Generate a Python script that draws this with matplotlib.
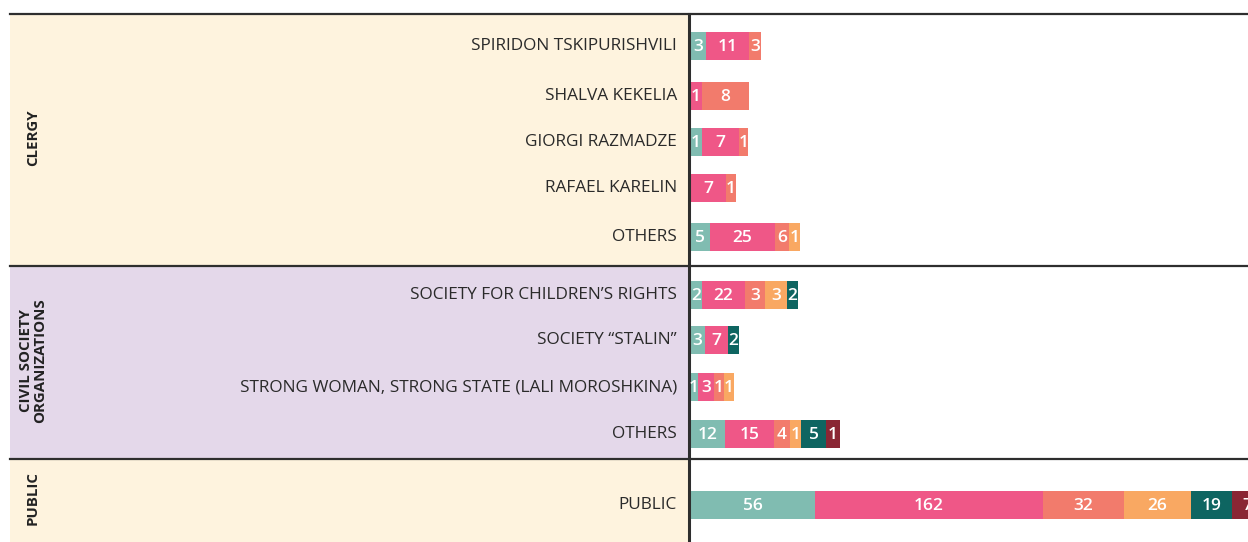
import matplotlib.pyplot as plt
import numpy as np

# rows, top to bottom
names = ["SPIRIDON TSKIPURISHVILI", "SHALVA KEKELIA", "GIORGI RAZMADZE", "RAFAEL KARELIN", "OTHERS",
         "SOCIETY FOR CHILDREN\u2019S RIGHTS", "SOCIETY \u201cSTALIN\u201d",
         "STRONG WOMAN, STRONG STATE (LALI MOROSHKINA)", "OTHERS",
         "PUBLIC"]
groups = ["CLERGY", "CIVIL SOCIETY\nORGANIZATIONS", "PUBLIC"]

# counts per category (0 = not present)
counts = [
    [3, 11, 3, 0, 0, 0],
    [0, 1, 8, 0, 0, 0],
    [1, 7, 1, 0, 0, 0],
    [0, 7, 1, 0, 0, 0],
    [5, 25, 6, 1, 0, 0],
    [2, 22, 3, 3, 2, 0],
    [3, 7, 0, 0, 2, 0],
    [1, 3, 1, 1, 0, 0],
    [12, 15, 4, 1, 5, 1],
    [56, 162, 32, 26, 19, 7],
]
# segment lengths as drawn in the original (not proportional to counts)
seg_len = [
    [16, 43, 12, 0, 0, 0],
    [0, 12, 47, 0, 0, 0],
    [12, 37, 9, 0, 0, 0],
    [0, 36, 10, 0, 0, 0],
    [20, 65, 14, 11, 0, 0],
    [12, 43, 20, 22, 11, 0],
    [15, 23, 0, 0, 11, 0],
    [8, 16, 10, 10, 0, 0],
    [35, 49, 16, 11, 25, 14],
    [125, 228, 81, 67, 41, 30],
]
colors = ["#80bcb1", "#ef5787", "#f27b6c", "#f9a862", "#0e6561", "#8a2634"]

W, H = 1248, 542
fig = plt.figure(figsize=(W / 100, H / 100), dpi=100)
ax = fig.add_axes([0, 0, 1, 1])
ax.set_xlim(0, W)
ax.set_ylim(H, 0)
ax.axis("off")

font = "Open Sans"
row_y = [46, 96, 142, 188, 237, 295, 340, 387, 434, 505]
bounds = [14, 266, 459, H]
band_cols = ["#fef3de", "#e4d8ea", "#fef3de"]
x0 = 690

for i in range(3):
    ax.add_patch(plt.Rectangle((10, bounds[i]), x0 - 10, bounds[i + 1] - bounds[i],
                               color=band_cols[i], lw=0, zorder=0))
    ax.plot([10, W], [bounds[i], bounds[i]], color="#2e2e2e", lw=1.6, zorder=3)
    mid = (bounds[i] + min(bounds[i + 1], 550)) / 2
    ax.text(33, mid - 2, groups[i], rotation=90, ha="center", va="center",
            fontsize=10.8, fontweight="bold", family=font, color="#222222", linespacing=1.0)
ax.plot([x0 - 1, x0 - 1], [14, H], color="#2e2e2e", lw=2.2, zorder=3)

counts = np.array(counts)
seg_len = np.array(seg_len)
for r in range(len(names)):
    y = row_y[r]
    ax.text(677, y, names[r], ha="right", va="center", fontsize=12.4,
            family=font, color="#2a2a2a")
    left = x0
    for c in range(6):
        w = seg_len[r, c]
        if counts[r, c] == 0:
            continue
        ax.barh(y, w, left=left, height=28, color=colors[c], lw=0, zorder=2)
        ax.text(left + w / 2, y + 1, str(counts[r, c]), ha="center", va="center",
                fontsize=12.5, fontweight="semibold", family=font, color="white",
                clip_on=True, zorder=4)
        left += w

fig.savefig("out.png", dpi=100)
